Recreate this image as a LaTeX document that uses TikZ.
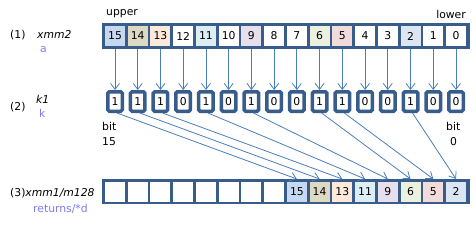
\documentclass[tikz,border=0pt]{standalone}
\usepackage{fontspec}
\setmainfont{DejaVu Sans}
\usetikzlibrary{arrows.meta}
\definecolor{dk}{HTML}{385D8A}
\definecolor{ln}{HTML}{4A7EBB}
\definecolor{lb}{HTML}{7B7BF5}
\definecolor{cA}{HTML}{C6D9F1}
\definecolor{cB}{HTML}{DDD9C3}
\definecolor{cC}{HTML}{FDE9D9}
\definecolor{cD}{HTML}{DBEEF3}
\definecolor{cE}{HTML}{E5E0EC}
\definecolor{cF}{HTML}{EBF1DE}
\definecolor{cG}{HTML}{F2DCDB}
\definecolor{cH}{HTML}{DCE6F2}
\begin{document}
\begin{tikzpicture}[x=1pt,y=-1pt,
  font=\fontsize{10.8}{12}\selectfont,
  cell/.style={minimum width=20pt, minimum height=20pt, inner sep=0pt, outer sep=0pt},
  kbox/.style={draw=dk, fill=white, line width=3.5pt, rounded corners=1.5pt,
    minimum width=14.5pt, minimum height=19.5pt, inner sep=0pt},
  arr/.style={draw=ln, line width=0.8pt, -{Straight Barb[length=6pt,width=9pt]}},
  lbl/.style={inner sep=0pt, anchor=west},
  sub/.style={inner sep=0pt, anchor=west, text=lb}]
\useasboundingbox (0,0) rectangle (476,225);
% row 1
\fill[dk] (102,23) rectangle (469.5,49);
\foreach \i/\c in {15/cA,14/cB,13/cC,12/white,11/cD,10/white,9/cE,8/white,7/white,6/cF,5/cG,4/white,3/white,2/cH,1/white,0/white}
  \node[cell, fill=\c] (a\i) at ({456-22.733*\i},36) {\i};
% row 2
\foreach \i/\v in {15/1,14/1,13/1,12/0,11/1,10/0,9/1,8/0,7/0,6/1,5/1,4/0,3/0,2/1,1/0,0/0}
  \node[kbox] (k\i) at ({456-22.733*\i},101.5) {\v};
\foreach \i in {15,...,0}
  \draw[arr] ([yshift=-3pt]a\i.south) -- (k\i.north);
% row 3
\fill[dk] (102,179) rectangle (469.5,204);
\foreach \j/\c/\t in {15/white/,14/white/,13/white/,12/white/,11/white/,10/white/,9/white/,8/white/,7/cA/15,6/cB/14,5/cC/13,4/cD/11,3/cE/9,2/cF/6,1/cG/5,0/cH/2}
  \node[cell, fill=\c] (d\j) at ({456-22.733*\j},191.5) {\t};
\foreach \s/\j in {15/7,14/6,13/5,11/4,9/3,6/2,5/1,2/0}
  \draw[arr] ([xshift=2pt]k\s.south) -- ([yshift=2.5pt]d\j.north);
% labels
\node[lbl] (upper) at (106,14) {upper};
\node[inner sep=0pt, anchor=east] (lower) at (466,14) {lower};
\node[lbl] (n1) at (10,35) {(1)};
\node[lbl] (xmm2) at (37,34) {\itshape xmm2};
\node[sub] (sa) at (40,50) {a};
\node[lbl] (n2) at (10,107) {(2)};
\node[lbl] (k1) at (36,99) {\itshape k1};
\node[sub] (sk) at (39,113) {k};
\node[lbl] (bitl) at (102,126) {bit};
\node[lbl] (b15) at (102,142) {15};
\node[lbl] (bitr) at (446,126) {bit};
\node[lbl] (b0) at (450,142) {0};
\node[lbl] (n3) at (10,193) {(3)\itshape xmm1/m128};
\node[sub] (sr) at (33,209) {returns/*d};
\end{tikzpicture}
\end{document}
